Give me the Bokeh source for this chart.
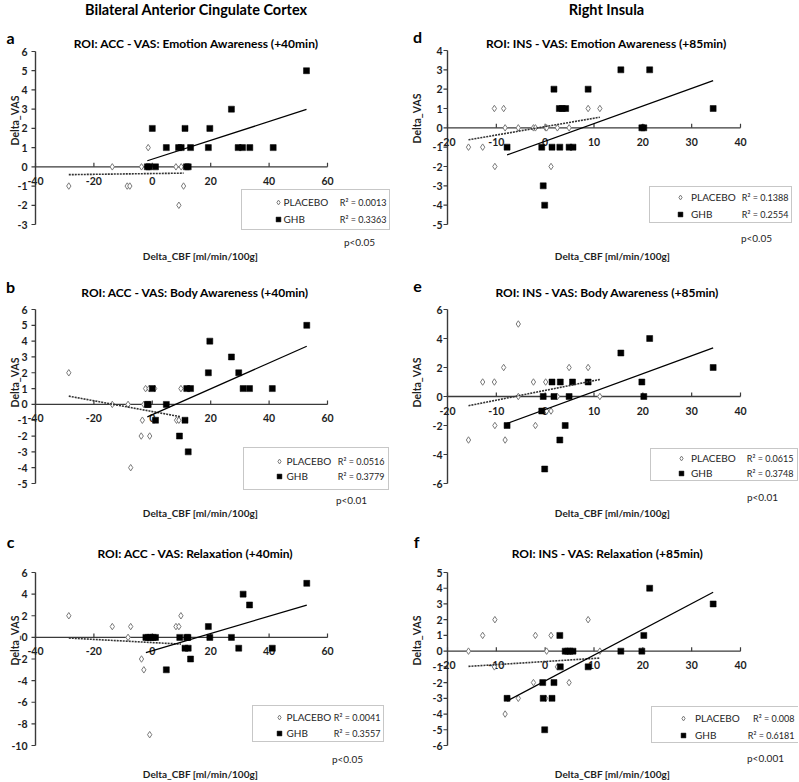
import numpy as np
from bokeh.plotting import figure
from bokeh.models import Label, Legend, LegendItem, Range1d
from bokeh.core.properties import value
from bokeh.layouts import gridplot
from bokeh.embed import file_html
from bokeh.resources import INLINE

FONT = "Lato"

# ---------------- data ----------------
column_titles = ["Bilateral Anterior Cingulate Cortex", "Right Insula"]
panel_letters = ["a", "b", "c", "d", "e", "f"]
panel_titles = [
    "ROI: ACC - VAS: Emotion Awareness (+40min)",
    "ROI: ACC - VAS: Body Awareness (+40min)",
    "ROI: ACC - VAS: Relaxation (+40min)",
    "ROI: INS - VAS: Emotion Awareness (+85min)",
    "ROI: INS - VAS: Body Awareness (+85min)",
    "ROI: INS - VAS: Relaxation (+85min)",
]
x_axis_title = "Delta_CBF [ml/min/100g]"
y_axis_title = "Delta_VAS"
series_names = ["PLACEBO", "GHB"]
r2_placebo = ["0.0013", "0.0516", "0.0041", "0.1388", "0.0615", "0.008"]
r2_ghb = ["0.3363", "0.3779", "0.3557", "0.2554", "0.3748", "0.6181"]
p_values = ["p<0.05", "p<0.01", "p<0.05", "p<0.05", "p<0.01", "p<0.001"]

acc_x_ticks = [-40, -20, 0, 20, 40, 60]
ins_x_ticks = [-20, -10, 0, 10, 20, 30, 40]
a_y_ticks = [-3, -2, -1, 0, 1, 2, 3, 4, 5, 6]
b_y_ticks = [-5, -4, -3, -2, -1, 0, 1, 2, 3, 4, 5, 6]
c_y_ticks = [-10, -8, -6, -4, -2, 0, 2, 4, 6]
d_y_ticks = [-5, -4, -3, -2, -1, 0, 1, 2, 3, 4]
e_y_ticks = [-6, -4, -2, 0, 2, 4, 6]
f_y_ticks = [-6, -5, -4, -3, -2, -1, 0, 1, 2, 3, 4, 5]

# panel a : ACC, Emotion Awareness
a_pla_x = [-1.4, -13.7, -3.7, 8.1, 9.9, -28.6, -8.6, -7.7, 10.7, 9.1]
a_pla_y = [1, 0, 0, 0, 0, -1, -1, -1, -1, -2]
a_ghb_x = [52.8, 27.1, 0.0, 11.2, 19.7, 4.8, 9.0, 9.9, 13.1, 19.2, 29.4, 30.9, 33.4, 41.4, -1.7, -1.1, 1.1, 11.7, 12.3]
a_ghb_y = [5, 3, 2, 2, 2, 1, 1, 1, 1, 1, 1, 1, 1, 1, 0, 0, 0, 0, 0]
a_pla_fit = [0.002, -0.35]   # slope, intercept
a_ghb_fit = [0.049, 0.40]

# panel b : ACC, Body Awareness
b_pla_x = [-28.6, -2.3, -1.1, 0.8, 9.8, -13.7, -8.3, -2.9, -3.4, 0.6, 8.3, 9.1, -3.8, -0.9, -7.4]
b_pla_y = [2, 1, 1, 1, 1, 0, 0, 0, -1, -1, -1, -1, -2, -2, -4]
b_ghb_x = [52.9, 19.7, 27.1, 19.2, 29.6, 0.0, 11.8, 13.1, 31.1, 33.3, 41.1, -1.7, -1.4, 4.8, 1.1, 11.2, 9.3, 12.3]
b_ghb_y = [5, 4, 3, 2, 2, 1, 1, 1, 1, 1, 1, 0, 0, 0, -1, -1, -2, -3]
b_pla_fit = [-0.034, -0.45]
b_ghb_fit = [0.0818, -0.65]

# panel c : ACC, Relaxation
c_pla_x = [-28.6, 9.8, -13.7, -7.4, 8.1, 9.1, -8.3, -3.7, -2.9, -0.9]
c_pla_y = [2, 2, 1, 1, 1, 1, 0, -2, -3, -9]
c_ghb_x = [52.9, 31.1, 33.3, 19.2, -2.2, -1.4, -0.6, 0.3, 1.1, 9.4, 11.8, 12.2, 19.7, 27.1, 11.2, 12.3, 29.6, 41.1, 13.1, 4.8]
c_ghb_y = [5, 4, 3, 1, 0, 0, 0, 0, 0, 0, 0, 0, 0, 0, -1, -1, -1, -1, -2, -3]
c_pla_fit = [-0.0146, -0.48]
c_ghb_fit = [0.080, -1.24]

# panel d : INS, Emotion Awareness
d_pla_x = [-10.4, -8.5, 8.8, 11.2, -8.2, -5.5, -2.4, -2.0, 0.1, 0.3, 2.5, 4.9, -15.7, -12.8, -10.3, 1.2]
d_pla_y = [1, 1, 1, 1, 0, 0, 0, 0, 0, 0, 0, 0, -1, -1, -2, -2]
d_ghb_x = [15.5, 21.4, 1.8, 8.8, 2.9, 3.5, 4.2, 34.4, 19.8, 20.2, -7.8, -0.7, 1.4, 3.0, 4.9, 5.7, -0.4, -0.1]
d_ghb_y = [3, 3, 2, 2, 1, 1, 1, 1, 0, 0, -1, -1, -1, -1, -1, -1, -3, -4]
d_pla_fit = [0.0435, 0.063]
d_ghb_fit = [0.0912, -0.69]

# panel e : INS, Body Awareness
e_pla_x = [-5.5, -8.5, 4.9, 8.8, -12.8, -10.4, -2.4, 0.1, -5.5, 2.5, 11.2, 0.3, 1.2, -10.3, -2.0, -15.7, -8.2]
e_pla_y = [5, 2, 2, 2, 1, 1, 1, 1, 0, 0, 0, -1, -1, -2, -2, -3, -3]
e_ghb_x = [21.4, 15.5, 34.4, 1.4, 3.1, 5.6, 8.8, 19.8, -0.4, 1.8, 4.9, 20.2, -0.7, -7.8, 4.1, 3.0, -0.1]
e_ghb_y = [4, 3, 2, 1, 1, 1, 1, 1, 0, 0, 0, 0, -1, -2, -2, -3, -5]
e_pla_fit = [0.0673, 0.42]
e_ghb_fit = [0.1237, -0.895]

# panel f : INS, Relaxation
f_pla_x = [-10.3, 8.8, -12.8, -2.0, 1.2, -15.7, 0.3, 11.2, -10.4, 2.5, -2.4, 4.9, -7.6, -5.5, 0.1, -8.2]
f_pla_y = [2, 2, 1, 1, 1, 0, 0, 0, -1, -1, -2, -2, -3, -3, -3, -4]
f_ghb_x = [21.4, 34.4, 3.0, 20.2, 4.1, 4.6, 5.1, 5.7, 15.5, 19.8, 3.1, 8.8, -0.5, 1.8, -7.8, -0.4, 1.4, -0.1]
f_ghb_y = [4, 3, 1, 1, 0, 0, 0, 0, 0, 0, -1, -1, -2, -2, -3, -3, -3, -5]
f_pla_fit = [0.0197, -0.66]
f_ghb_fit = [0.1637, -1.89]

# ---------------- layout (page pixel geometry) ----------------
GEOM = {
    "a": dict(ox=0, oy=0, w=400, h=264, fl=35, fr=327, ft=51, fb=224),
    "b": dict(ox=0, oy=264, w=400, h=256, fl=35, fr=327, ft=309, fb=483),
    "c": dict(ox=0, oy=520, w=400, h=261, fl=35, fr=327, ft=572, fb=745),
    "d": dict(ox=400, oy=0, w=398, h=264, fl=447, fr=740, ft=50, fb=224),
    "e": dict(ox=400, oy=264, w=398, h=256, fl=447, fr=740, ft=309, fb=483),
    "f": dict(ox=400, oy=520, w=398, h=261, fl=447, fr=740, ft=572, fb=745),
}
TXT = dict(
    a=dict(title=(196, 43), letter=(10, 37), ylab=(14, 120), pval=(359, 241), xlab=(200, 255),
           box=(241, 388, 191, 230), rows=(202, 219), mx=277.5, tx=283.5, r2r=386, tlx=-8),
    b=dict(title=(195, 292), letter=(10, 286), ylab=(14, 382), pval=(351, 499), xlab=(200, 512),
           box=(243, 387, 449, 490), rows=(461, 476), mx=278.5, tx=287, r2r=384, tlx=-8),
    c=dict(title=(195, 553), letter=(10, 541), ylab=(14, 640), pval=(347, 758), xlab=(200, 773),
           box=(252, 382, 707, 742), rows=(717, 733), mx=278.5, tx=286, r2r=380, tlx=-8),
    d=dict(title=(606, 43), letter=(417, 36), ylab=(416, 118), pval=(756, 237), xlab=(612, 255),
           box=(649, 790, 188, 223), rows=(197, 214), mx=680, tx=691, r2r=788, tlx=-5),
    e=dict(title=(607, 292), letter=(417, 286), ylab=(416, 382), pval=(762, 496), xlab=(612, 512),
           box=(650, 796, 450, 481), rows=(458, 473), mx=681, tx=691, r2r=793, tlx=-5),
    f=dict(title=(607, 553), letter=(416, 541), ylab=(416, 640), pval=(765, 757), xlab=(612, 773),
           box=(651, 797, 708, 743), rows=(718, 735), mx=683, tx=695, r2r=794, tlx=-5),
)
AXC = "#3a3a3a"
TC = "#1e1e1e"


def add_text(p, g, X, Y, text, size, bold=False, align="center", angle=0, color=TC):
    p.add_layout(Label(x=X - g["ox"], y=g["oy"] + g["h"] - Y, x_units="screen", y_units="screen",
                       text=text, text_font=FONT, text_font_size=f"{size}px",
                       text_font_style="bold" if bold else "normal",
                       text_align=align, text_baseline="middle",
                       angle=angle, angle_units="deg", text_color=color))


def build(key, idx, x_rng, x_ticks, y_rng, y_ticks, pla_x, pla_y, ghb_x, ghb_y, pla_fit, ghb_fit):
    g = GEOM[key]
    t = TXT[key]
    xmin, xmax = x_rng
    ymin, ymax = y_rng
    ppx = (g["fr"] - g["fl"]) / (xmax - xmin)
    ppy = (g["fb"] - g["ft"]) / (ymax - ymin)
    xs0 = xmin - (g["fl"] - g["ox"]) / ppx
    xs1 = xmax + (g["ox"] + g["w"] - g["fr"]) / ppx
    ys0 = ymin - (g["oy"] + g["h"] - g["fb"]) / ppy
    ys1 = ymax + (g["ft"] - g["oy"]) / ppy
    p = figure(width=g["w"], height=g["h"], min_border_left=0, min_border_right=0,
               min_border_top=0, min_border_bottom=0,
               x_range=Range1d(xs0, xs1), y_range=Range1d(ys0, ys1),
               x_axis_location=None, y_axis_location=None,
               output_backend="svg", toolbar_location=None, tools="")
    p.outline_line_color = None
    p.xgrid.visible = False
    p.ygrid.visible = False
    p.background_fill_color = "white"
    p.border_fill_color = "white"

    # ---- Excel-style axes: vertical axis at x-min, horizontal axis crossing at y = 0
    ny, nx = len(y_ticks), len(x_ticks)
    p.segment(x0=[xmin], y0=[ymin], x1=[xmin], y1=[ymax], line_color=AXC, line_width=1.4)
    p.segment(x0=[xmin - 4 / ppx] * ny, y0=y_ticks, x1=[xmin] * ny, y1=y_ticks,
              line_color=AXC, line_width=1.2)
    p.text(x=[xmin] * ny, y=y_ticks, text=[str(v) for v in y_ticks], x_offset=t["tlx"],
           text_align="right", text_baseline="middle", text_font=value(FONT),
           text_font_size="10.5px", text_font_style="bold", text_color=TC)
    p.segment(x0=[xmin], y0=[0], x1=[xmax], y1=[0], line_color=AXC, line_width=1.4)
    p.segment(x0=x_ticks, y0=[0] * nx, x1=x_ticks, y1=[4 / ppy] * nx, line_color=AXC, line_width=1.2)
    p.text(x=x_ticks, y=[0] * nx, text=[str(v) for v in x_ticks], y_offset=14,
           text_align="center", text_baseline="middle", text_font=value(FONT),
           text_font_size="10.5px", text_font_style="bold", text_color=TC)

    pla = p.scatter(pla_x, pla_y, marker="diamond", size=6.5, fill_color="white",
                    line_color="#7a7a7a", line_width=1)
    ghb = p.scatter(ghb_x, ghb_y, marker="square", size=6, fill_color="black",
                    line_color="black", line_width=0.5)

    xs = np.array([min(pla_x), max(pla_x)], dtype=float)
    p.line(xs, pla_fit[0] * xs + pla_fit[1], line_dash="2 1", line_width=1.6, line_color="#333333")
    xs = np.array([min(ghb_x), max(ghb_x)], dtype=float)
    p.line(xs, ghb_fit[0] * xs + ghb_fit[1], line_width=1.3, line_color="black")

    # legend frame (transparent fill so the R² texts beneath stay visible)
    L, R, T, B = t["box"]
    base = g["oy"] + g["h"]
    dummy = p.scatter(x=[], y=[], size=0, fill_alpha=0, line_alpha=0)
    frame_leg = Legend(items=[LegendItem(label=" ", renderers=[dummy])],
                       location=(L - g["ox"], base - B), padding=0, margin=0, spacing=0,
                       glyph_width=0, glyph_height=B - T, label_height=B - T,
                       label_width=R - L, label_standoff=0,
                       border_line_color="#8f8f8f", border_line_width=1,
                       background_fill_alpha=0.0, label_text_font_size="2px")
    p.add_layout(frame_leg)

    # legend items
    r1, r2 = t["rows"]
    gh, gw = 14, 12
    sp = max(0, int(round(r2 - r1 - gh)))
    standoff = max(0, int(round(t["tx"] - (t["mx"] + gw / 2))))
    top_y = r1 - gh / 2
    bot_y = top_y + 2 * gh + sp
    item_leg = Legend(items=[LegendItem(label=series_names[0], renderers=[pla]),
                             LegendItem(label=series_names[1], renderers=[ghb])],
                      location=(t["mx"] - gw / 2 - g["ox"], base - bot_y),
                      padding=0, margin=0, spacing=sp, glyph_width=gw, glyph_height=gh,
                      label_height=gh, label_standoff=standoff,
                      border_line_alpha=0, background_fill_alpha=0,
                      label_text_font=FONT, label_text_font_size="10px", label_text_color=TC)
    p.add_layout(item_leg)
    add_text(p, g, t["r2r"], r1, "R² = " + r2_placebo[idx], 9, align="right")
    add_text(p, g, t["r2r"], r2, "R² = " + r2_ghb[idx], 9, align="right")

    add_text(p, g, *t["title"], panel_titles[idx], 12, bold=True, color="#000000")
    add_text(p, g, *t["letter"], panel_letters[idx], 16, bold=True, color="#000000")
    add_text(p, g, *t["ylab"], y_axis_title, 10.5, bold=True, angle=90)
    add_text(p, g, *t["xlab"], x_axis_title, 10, bold=True)
    add_text(p, g, *t["pval"], p_values[idx], 10)
    return p


pa = build("a", 0, (-40, 60), acc_x_ticks, (-3, 6), a_y_ticks, a_pla_x, a_pla_y, a_ghb_x, a_ghb_y, a_pla_fit, a_ghb_fit)
pb = build("b", 1, (-40, 60), acc_x_ticks, (-5, 6), b_y_ticks, b_pla_x, b_pla_y, b_ghb_x, b_ghb_y, b_pla_fit, b_ghb_fit)
pc = build("c", 2, (-40, 60), acc_x_ticks, (-10, 6), c_y_ticks, c_pla_x, c_pla_y, c_ghb_x, c_ghb_y, c_pla_fit, c_ghb_fit)
pd = build("d", 3, (-20, 40), ins_x_ticks, (-5, 4), d_y_ticks, d_pla_x, d_pla_y, d_ghb_x, d_ghb_y, d_pla_fit, d_ghb_fit)
pe = build("e", 4, (-20, 40), ins_x_ticks, (-6, 6), e_y_ticks, e_pla_x, e_pla_y, e_ghb_x, e_ghb_y, e_pla_fit, e_ghb_fit)
pf = build("f", 5, (-20, 40), ins_x_ticks, (-6, 5), f_y_ticks, f_pla_x, f_pla_y, f_ghb_x, f_ghb_y, f_pla_fit, f_ghb_fit)

add_text(pa, GEOM["a"], 196, 9, column_titles[0], 14.5, bold=True, color="#000000")
add_text(pd, GEOM["d"], 606, 9, column_titles[1], 14.5, bold=True, color="#000000")

grid = gridplot([[pa, pd], [pb, pe], [pc, pf]], toolbar_location=None)

open("out.html", "w").write(file_html(grid, INLINE))
